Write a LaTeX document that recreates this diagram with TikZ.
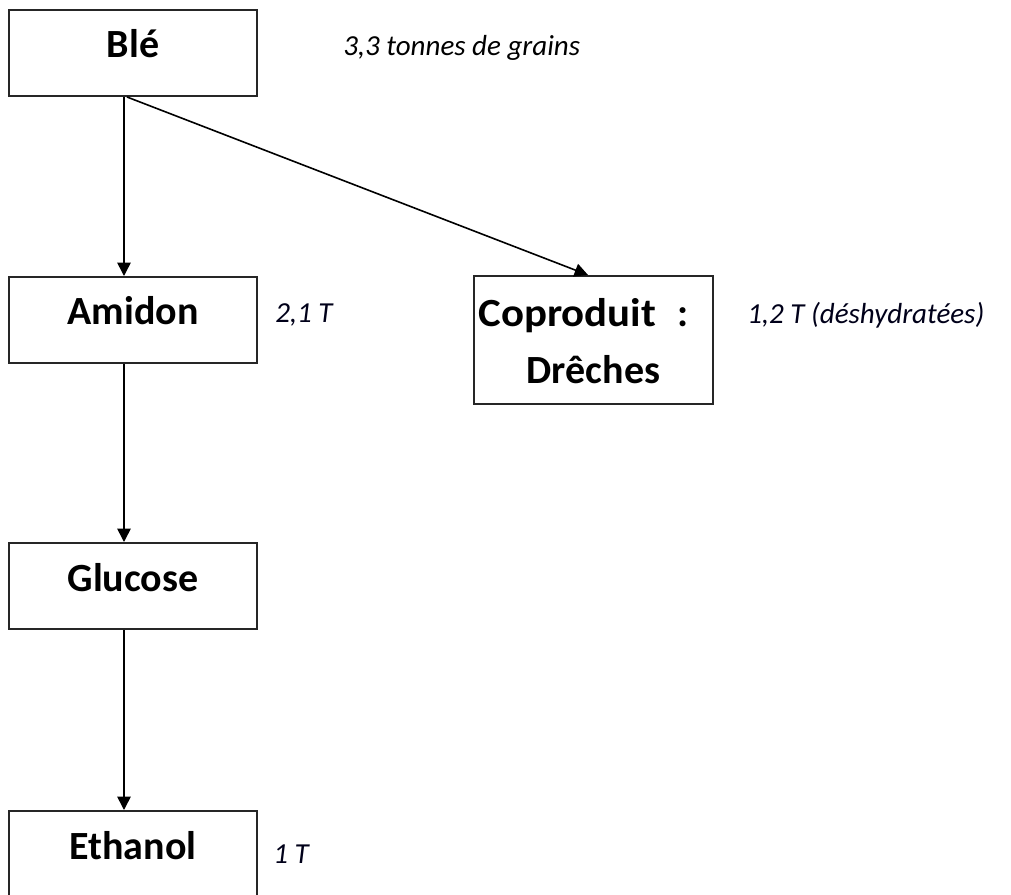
\documentclass[tikz,border=0pt]{standalone}
\usepackage{fontspec}
\usepackage{graphicx}
\setmainfont{Carlito}
\usetikzlibrary{arrows.meta,calc}
\begin{document}
\begin{tikzpicture}[x=0.75pt,y=-0.75pt,
  box/.style={draw=black!85, line width=1.5pt, inner sep=0pt, minimum width=186pt, minimum height=64.5pt,
    font=\fontsize{30}{36}\selectfont\bfseries, text height=36pt, text depth=28.5pt},
  cbox/.style={draw=black!85, line width=1.5pt, inner sep=0pt, minimum width=179pt, minimum height=96pt,
    font=\fontsize{30}{42.75}\selectfont\bfseries, align=center},
  qty/.style={anchor=base west, inner sep=0pt, font=\fontsize{21.75}{26}\selectfont\itshape, text=black!90!blue},
  arr/.style={line width=1.2pt, -{Triangle[length=10pt,width=10pt]}}]
\useasboundingbox (0,0) rectangle (1011,895);
\node[box] (ble) at (133,53) {Blé};
\node[box] (amidon) at (133,320) {Amidon};
\node[box] (glucose) at (133,586) {Glucose};
\node[box] (ethanol) at (133,854) {Ethanol};
\node[cbox] (cop) at (593.5,340) {\rule{0pt}{37.5pt}\scalebox{1.07}[1]{Coproduit}\hspace{16pt}:\hspace*{15pt}\null\\Drêches\rule[-15.75pt]{0pt}{15.75pt}};
\node[qty, text=black] (q1) at (343,56) {3,3 tonnes de grains};
\node[qty] (q2) at (275,322) {2,1 T};
\node[qty] (q3) at (747,324) {1,2 T (déshydratées)};
\node[qty] (q4) at (273,863) {1 T};
\draw[arr] ($(ble.south)+(-9,0)$) -- ($(amidon.north)+(-9,0)$);
\draw[arr] ($(amidon.south)+(-9,0)$) -- ($(glucose.north)+(-9,0)$);
\draw[arr] ($(glucose.south)+(-9,0)$) -- ($(ethanol.north)+(-9,0)$);
\draw[arr] ($(ble.south)+(-6,0)$) -- ($(cop.north)+(-5.5,0)$);
\end{tikzpicture}
\end{document}
